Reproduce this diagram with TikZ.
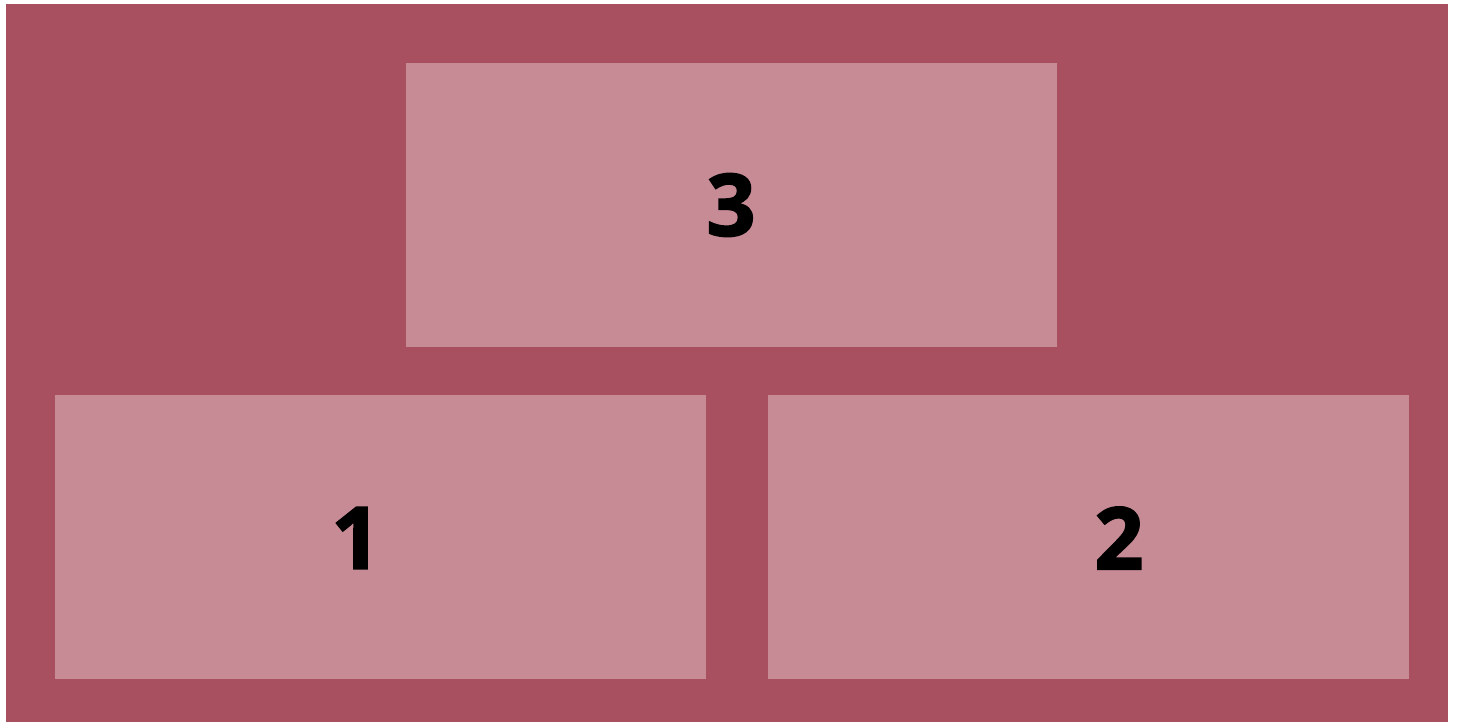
\documentclass[tikz,border=0pt]{standalone}
\usepackage{fontspec}
\setmainfont{Open Sans}[BoldFeatures={FakeBold=2}]
\definecolor{bgrose}{RGB}{168,80,95}
\definecolor{boxrose}{RGB}{199,139,150}
\begin{document}
\begin{tikzpicture}[x=1pt,y=-1pt,
  panel/.style={fill=boxrose,draw=none},
  lbl/.style={font=\fontsize{86}{86}\selectfont\bfseries,text=black,inner sep=0pt,anchor=center}]
\useasboundingbox (0,0) rectangle (1458,722);
\fill[white] (0,0) rectangle (1458,722);
\fill[bgrose] (6,4) rectangle (1448,722);
\fill[panel] (406,63) rectangle (1057,347);
\fill[panel] (55,395) rectangle (706,679);
\fill[panel] (768,395) rectangle (1409,679);
\node[lbl] (n3) at (731,205) {3};
\node[lbl] (n1) at (356,538) {1};
\node[lbl] (n2) at (1119,538) {2};
\end{tikzpicture}
\end{document}
